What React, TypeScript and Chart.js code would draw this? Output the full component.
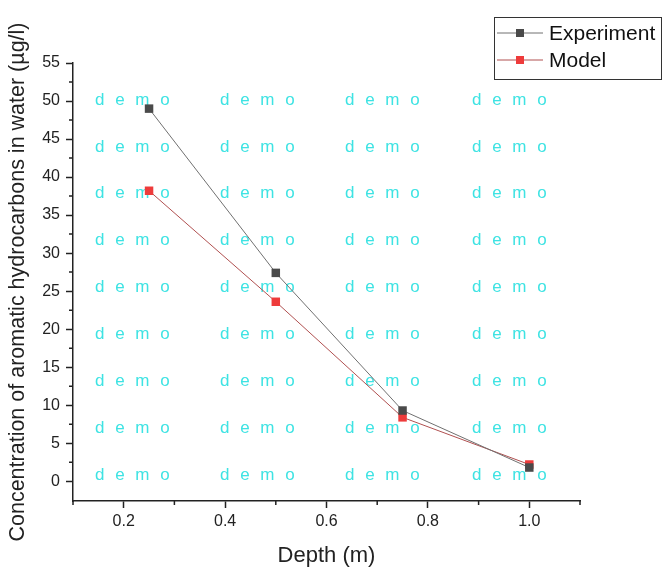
import React, { useEffect, useRef } from "react";
import { Chart, registerables } from "chart.js";

Chart.register(...registerables);

const depths = [0.25, 0.5, 0.75, 1.0];
const experimentValues = [49.0, 27.4, 9.3, 1.8];
const modelValues = [38.2, 23.6, 8.4, 2.2];
const xMajorTicks = [0.2, 0.4, 0.6, 0.8, 1.0];
const xMinorTicks = [0.1, 0.3, 0.5, 0.7, 0.9, 1.1];
const yMajorTicks = [0, 5, 10, 15, 20, 25, 30, 35, 40, 45, 50, 55];
const yMinorTicks = [2.5, 7.5, 12.5, 17.5, 22.5, 27.5, 32.5, 37.5, 42.5, 47.5, 52.5];
const seriesNames = ["Experiment", "Model"];
const watermarkText = "d e m o";

const FONT = "Arial, 'Liberation Sans', sans-serif";

const minorTicksPlugin = {
  id: "minorTicks",
  afterDraw(chart: any) {
    const ctx = chart.ctx;
    const xs = chart.scales.x;
    const ys = chart.scales.y;
    ctx.save();
    ctx.strokeStyle = "#222";
    ctx.lineWidth = 1.5;
    ctx.beginPath();
    for (const v of xMinorTicks) {
      const px = xs.getPixelForValue(v);
      ctx.moveTo(px, ys.bottom);
      ctx.lineTo(px, ys.bottom + 4);
    }
    for (const v of yMinorTicks) {
      const py = ys.getPixelForValue(v);
      ctx.moveTo(xs.left, py);
      ctx.lineTo(xs.left - 4, py);
    }
    ctx.stroke();
    ctx.restore();
  },
};

const watermarkPlugin = {
  id: "watermark",
  beforeDatasetsDraw(chart: any) {
    const ctx = chart.ctx;
    ctx.save();
    ctx.fillStyle = "#3ee3e3";
    ctx.font = `17px ${FONT}`;
    (ctx as any).letterSpacing = "3px";
    ctx.textBaseline = "middle";
    const cols = [95, 220, 345, 472];
    for (let r = 0; r < 9; r++) {
      const y = 100 + r * 46.9;
      for (const c of cols) ctx.fillText(watermarkText, c, y);
    }
    ctx.restore();
  },
};

const legendPlugin = {
  id: "customLegend",
  afterDraw(chart: any) {
    const ctx = chart.ctx;
    ctx.save();
    const x0 = 494, y0 = 17, w = 167, h = 62;
    ctx.fillStyle = "#fff";
    ctx.fillRect(x0, y0, w, h);
    ctx.strokeStyle = "#333";
    ctx.lineWidth = 1;
    ctx.strokeRect(x0 + 0.5, y0 + 0.5, w, h);
    chart.data.datasets.forEach((ds: any, i: number) => {
      const y = 33 + i * 27;
      ctx.strokeStyle = ds.borderColor;
      ctx.lineWidth = 1;
      ctx.beginPath();
      ctx.moveTo(497, y);
      ctx.lineTo(543, y);
      ctx.stroke();
      ctx.fillStyle = ds.pointBackgroundColor;
      ctx.fillRect(516, y - 4, 8, 8);
      ctx.fillStyle = "#111";
      ctx.font = `21px ${FONT}`;
      ctx.textBaseline = "middle";
      ctx.fillText(ds.label, 549, y + 1);
    });
    ctx.restore();
  },
};

export default function App() {
  const ref = useRef<HTMLCanvasElement>(null);
  useEffect(() => {
    document.body.style.margin = "0";
    const chart = new Chart(ref.current!, {
      type: "line",
      data: {
        datasets: [
          {
            label: seriesNames[0],
            data: depths.map((d, i) => ({ x: d, y: experimentValues[i] })),
            borderColor: "#707070",
            borderWidth: 1,
            pointBackgroundColor: "#4a4a4a",
            pointBorderColor: "#4a4a4a",
            pointStyle: "rect",
            pointRadius: 6,
            pointBorderWidth: 0,
          },
          {
            label: seriesNames[1],
            data: depths.map((d, i) => ({ x: d, y: modelValues[i] })),
            borderColor: "#b05050",
            borderWidth: 1,
            pointBackgroundColor: "#ee3b3b",
            pointBorderColor: "#ee3b3b",
            pointStyle: "rect",
            pointRadius: 6,
            pointBorderWidth: 0,
          },
        ],
      },
      options: {
        animation: false,
        responsive: false,
        maintainAspectRatio: false,
        layout: { padding: { left: 0, top: 63, right: 92, bottom: 0 } },
        plugins: { legend: { display: false }, tooltip: { enabled: false } },
        scales: {
          x: {
            type: "linear",
            min: 0.1,
            max: 1.1,
            afterBuildTicks: (s: any) => {
              s.ticks = xMajorTicks.map((v) => ({ value: v }));
            },
            afterFit: (s: any) => {
              s.height = 70;
            },
            grid: { drawOnChartArea: false, drawTicks: true, tickLength: 7, color: "#222", tickWidth: 1.5 },
            border: { color: "#222", width: 1.5 },
            ticks: {
              color: "#222",
              font: { size: 16, family: FONT },
              padding: 4,
              maxRotation: 0,
              callback: (v: any) => Number(v).toFixed(1),
            },
            title: {
              display: true,
              text: "Depth (m)",
              color: "#222",
              font: { size: 22, family: FONT },
              padding: { top: 4, bottom: 2 },
            },
          },
          y: {
            type: "linear",
            min: -2.6,
            max: 55,
            afterBuildTicks: (s: any) => {
              s.ticks = yMajorTicks.map((v) => ({ value: v }));
            },
            afterFit: (s: any) => {
              s.width = 73;
            },
            grid: { drawOnChartArea: false, drawTicks: true, tickLength: 7, color: "#222", tickWidth: 1.5 },
            border: { color: "#222", width: 1.5 },
            ticks: {
              color: "#222",
              font: { size: 16, family: FONT },
              padding: 6,
            },
            title: {
              display: true,
              text: "Concentration of aromatic hydrocarbons in water (µg/l)",
              color: "#222",
              font: { size: 21.5, family: FONT },
              padding: { top: 5, bottom: 0 },
            },
          },
        },
      },
      plugins: [watermarkPlugin, minorTicksPlugin, legendPlugin],
    } as any);
    return () => chart.destroy();
  }, []);
  return (
    <div style={{ width: 672, height: 571 }}>
      <canvas ref={ref} width={672} height={571} style={{ display: "block" }} />
    </div>
  );
}
